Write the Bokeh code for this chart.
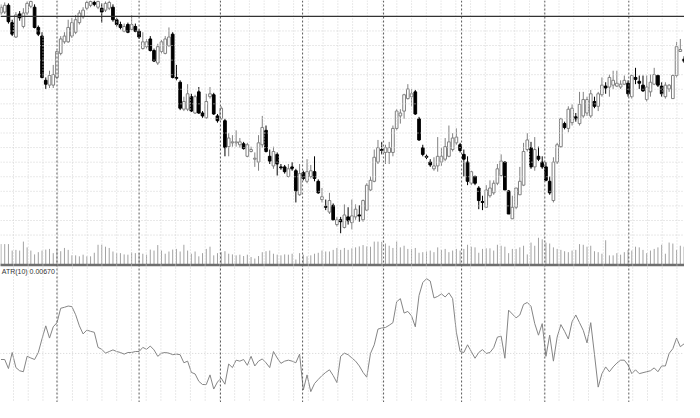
from bokeh.plotting import figure
from bokeh.models import Range1d, Span, Label, ColumnDataSource
from bokeh.embed import file_html
from bokeh.resources import INLINE

# ---------------- data ----------------
opens = [1.3935, 1.3940, 1.3975, 1.3885, 1.3810, 1.3930, 1.3865, 1.3935, 1.3970, 1.3965,
         1.3860, 1.3815, 1.3585, 1.3560, 1.3560, 1.3600, 1.3725, 1.3785, 1.3785, 1.3815,
         1.3835, 1.3885, 1.3915, 1.3960, 1.3975, 1.3990, 1.3965, 1.3960, 1.3950, 1.3960,
         1.3965, 1.3900, 1.3875, 1.3840, 1.3875, 1.3850, 1.3865, 1.3840, 1.3750, 1.3760,
         1.3800, 1.3740, 1.3675, 1.3735, 1.3725, 1.3765, 1.3825, 1.3600, 1.3575, 1.3435,
         1.3435, 1.3500, 1.3415, 1.3525, 1.3415, 1.3390, 1.3500, 1.3510, 1.3400, 1.3385,
         1.3375, 1.3240, 1.3260, 1.3260, 1.3250, 1.3255, 1.3190, 1.3215, 1.3175, 1.3160,
         1.3250, 1.3325, 1.3190, 1.3140, 1.3200, 1.3135, 1.3135, 1.3085, 1.3135, 1.3115,
         1.2990, 1.3105, 1.3060, 1.3085, 1.3110, 1.3060, 1.2965, 1.2930, 1.2900, 1.2935,
         1.2835, 1.2860, 1.2820, 1.2875, 1.2845, 1.2875, 1.2885, 1.2860, 1.2910, 1.3015,
         1.3060, 1.3160, 1.3225, 1.3210, 1.3210, 1.3210, 1.3335, 1.3400, 1.3425, 1.3490,
         1.3500, 1.3525, 1.3385, 1.3235, 1.3190, 1.3160, 1.3125, 1.3140, 1.3160, 1.3175,
         1.3190, 1.3225, 1.3260, 1.3250, 1.3200, 1.3160, 1.3050, 1.3085, 1.3025, 1.2955,
         1.2925, 1.2985, 1.3000, 1.3050, 1.3090, 1.3160, 1.3010, 1.2865, 1.2925, 1.2990,
         1.3040, 1.3225, 1.3235, 1.3135, 1.3190, 1.3160, 1.3135, 1.3060, 1.2960, 1.3160,
         1.3240, 1.3360, 1.3335, 1.3365, 1.3395, 1.3360, 1.3400, 1.3415, 1.3400, 1.3475,
         1.3450, 1.3510, 1.3555, 1.3550, 1.3560, 1.3555, 1.3550, 1.3565, 1.3570, 1.3500,
         1.3600, 1.3580, 1.3560, 1.3485, 1.3525, 1.3565, 1.3610, 1.3555, 1.3500, 1.3540,
         1.3490, 1.3610, 1.3735, 1.3695]

highs = [1.3980, 1.3990, 1.3985, 1.3900, 1.3940, 1.3945, 1.3960, 1.3995, 1.4000, 1.3980,
         1.3870, 1.3835, 1.3600, 1.3635, 1.3665, 1.3740, 1.3815, 1.3835, 1.3900, 1.3910,
         1.3925, 1.3950, 1.3965, 1.4000, 1.4000, 1.4000, 1.4000, 1.3985, 1.3995, 1.4000,
         1.3980, 1.3910, 1.3890, 1.3880, 1.3885, 1.3925, 1.3880, 1.3850, 1.3835, 1.3800,
         1.3815, 1.3750, 1.3775, 1.3795, 1.3815, 1.3860, 1.3835, 1.3665, 1.3585, 1.3500,
         1.3565, 1.3515, 1.3510, 1.3550, 1.3425, 1.3515, 1.3550, 1.3520, 1.3410, 1.3450,
         1.3385, 1.3310, 1.3300, 1.3325, 1.3285, 1.3265, 1.3260, 1.3240, 1.3210, 1.3300,
         1.3400, 1.3350, 1.3225, 1.3240, 1.3210, 1.3150, 1.3145, 1.3150, 1.3160, 1.3125,
         1.3150, 1.3115, 1.3175, 1.3145, 1.3190, 1.3070, 1.3025, 1.2965, 1.3000, 1.2945,
         1.2875, 1.2875, 1.2940, 1.2925, 1.2965, 1.2940, 1.2935, 1.2965, 1.3050, 1.3085,
         1.3225, 1.3275, 1.3265, 1.3250, 1.3265, 1.3350, 1.3435, 1.3435, 1.3515, 1.3565,
         1.3540, 1.3535, 1.3395, 1.3250, 1.3200, 1.3175, 1.3185, 1.3290, 1.3235, 1.3285,
         1.3350, 1.3310, 1.3335, 1.3260, 1.3225, 1.3190, 1.3115, 1.3090, 1.3035, 1.2985,
         1.3040, 1.3065, 1.3065, 1.3150, 1.3200, 1.3165, 1.3015, 1.2985, 1.3025, 1.3135,
         1.3260, 1.3310, 1.3265, 1.3290, 1.3240, 1.3190, 1.3160, 1.3085, 1.3185, 1.3260,
         1.3390, 1.3370, 1.3450, 1.3460, 1.3415, 1.3525, 1.3525, 1.3500, 1.3535, 1.3500,
         1.3525, 1.3600, 1.3575, 1.3615, 1.3635, 1.3635, 1.3585, 1.3610, 1.3585, 1.3615,
         1.3650, 1.3610, 1.3610, 1.3610, 1.3615, 1.3650, 1.3615, 1.3575, 1.3575, 1.3565,
         1.3615, 1.3785, 1.3800, 1.3710]

lows = [1.3925, 1.3930, 1.3880, 1.3815, 1.3805, 1.3895, 1.3855, 1.3925, 1.3960, 1.3855,
        1.3815, 1.3595, 1.3540, 1.3545, 1.3545, 1.3590, 1.3715, 1.3775, 1.3780, 1.3805,
        1.3825, 1.3875, 1.3905, 1.3950, 1.3965, 1.3970, 1.3955, 1.3885, 1.3940, 1.3950,
        1.3890, 1.3865, 1.3850, 1.3835, 1.3830, 1.3845, 1.3835, 1.3800, 1.3745, 1.3750,
        1.3735, 1.3680, 1.3665, 1.3725, 1.3720, 1.3760, 1.3595, 1.3585, 1.3430, 1.3425,
        1.3425, 1.3420, 1.3410, 1.3410, 1.3390, 1.3385, 1.3490, 1.3405, 1.3365, 1.3380,
        1.3190, 1.3190, 1.3240, 1.3240, 1.3235, 1.3225, 1.3185, 1.3210, 1.3135, 1.3115,
        1.3235, 1.3210, 1.3150, 1.3125, 1.3090, 1.3120, 1.3100, 1.3080, 1.3115, 1.2950,
        1.2985, 1.3065, 1.3050, 1.3075, 1.3060, 1.2995, 1.2950, 1.2910, 1.2890, 1.2855,
        1.2825, 1.2790, 1.2815, 1.2835, 1.2810, 1.2860, 1.2850, 1.2850, 1.2905, 1.3010,
        1.3055, 1.3150, 1.3200, 1.3150, 1.3150, 1.3190, 1.3325, 1.3360, 1.3385, 1.3485,
        1.3450, 1.3405, 1.3270, 1.3190, 1.3175, 1.3135, 1.3115, 1.3110, 1.3140, 1.3165,
        1.3185, 1.3215, 1.3250, 1.3210, 1.3085, 1.3040, 1.3040, 1.3040, 1.2915, 1.2910,
        1.2925, 1.2975, 1.2990, 1.3040, 1.3085, 1.3015, 1.2890, 1.2865, 1.2915, 1.2990,
        1.3035, 1.3215, 1.3125, 1.3115, 1.3165, 1.3125, 1.3060, 1.2990, 1.2950, 1.3150,
        1.3235, 1.3330, 1.3315, 1.3350, 1.3370, 1.3350, 1.3390, 1.3400, 1.3390, 1.3440,
        1.3425, 1.3500, 1.3515, 1.3500, 1.3540, 1.3550, 1.3540, 1.3560, 1.3500, 1.3490,
        1.3565, 1.3540, 1.3525, 1.3475, 1.3500, 1.3560, 1.3550, 1.3500, 1.3490, 1.3525,
        1.3490, 1.3600, 1.3735, 1.3675]

closes = [1.3965, 1.3975, 1.3890, 1.3825, 1.3925, 1.3910, 1.3935, 1.3985, 1.3995, 1.3860,
          1.3825, 1.3600, 1.3565, 1.3610, 1.3615, 1.3735, 1.3800, 1.3815, 1.3860, 1.3885,
          1.3900, 1.3935, 1.3950, 1.3990, 1.3995, 1.3980, 1.3995, 1.3940, 1.3985, 1.3990,
          1.3900, 1.3875, 1.3860, 1.3865, 1.3835, 1.3875, 1.3840, 1.3810, 1.3785, 1.3785,
          1.3740, 1.3685, 1.3760, 1.3785, 1.3800, 1.3810, 1.3600, 1.3595, 1.3440, 1.3475,
          1.3515, 1.3425, 1.3500, 1.3415, 1.3400, 1.3475, 1.3515, 1.3410, 1.3375, 1.3440,
          1.3235, 1.3285, 1.3265, 1.3265, 1.3265, 1.3230, 1.3250, 1.3225, 1.3180, 1.3260,
          1.3340, 1.3215, 1.3165, 1.3215, 1.3150, 1.3130, 1.3110, 1.3125, 1.3125, 1.3010,
          1.3100, 1.3075, 1.3110, 1.3115, 1.3075, 1.3000, 1.2980, 1.2925, 1.2960, 1.2860,
          1.2860, 1.2850, 1.2885, 1.2855, 1.2880, 1.2915, 1.2880, 1.2960, 1.3040, 1.3065,
          1.3185, 1.3235, 1.3220, 1.3235, 1.3235, 1.3335, 1.3425, 1.3415, 1.3510, 1.3540,
          1.3515, 1.3410, 1.3275, 1.3200, 1.3185, 1.3145, 1.3140, 1.3190, 1.3190, 1.3240,
          1.3265, 1.3285, 1.3290, 1.3220, 1.3175, 1.3060, 1.3110, 1.3050, 1.2960, 1.2950,
          1.3015, 1.3025, 1.3050, 1.3125, 1.3165, 1.3015, 1.2890, 1.2925, 1.3025, 1.3060,
          1.3215, 1.3275, 1.3135, 1.3225, 1.3175, 1.3135, 1.3065, 1.3000, 1.3160, 1.3250,
          1.3385, 1.3340, 1.3435, 1.3440, 1.3385, 1.3460, 1.3485, 1.3485, 1.3515, 1.3450,
          1.3515, 1.3560, 1.3545, 1.3600, 1.3585, 1.3570, 1.3565, 1.3585, 1.3515, 1.3610,
          1.3590, 1.3570, 1.3530, 1.3550, 1.3575, 1.3615, 1.3560, 1.3515, 1.3560, 1.3560,
          1.3610, 1.3760, 1.3745, 1.3685]

volumes = [20700, 20700, 20700, 14000, 14700, 14000, 23300, 17300, 14000, 10000,
           12300, 14000, 15000, 15700, 11300, 15700, 13300, 16700, 14700, 9000,
           9000, 8000, 9700, 8000, 8000, 11700, 20000, 20000, 18000, 16700,
           13000, 11300, 11300, 10000, 9700, 12000, 11300, 11300, 10700, 9700,
           15000, 14000, 19700, 14000, 10700, 13000, 15000, 15700, 13000, 20000,
           14000, 10700, 13000, 8000, 11300, 15700, 18000, 9000, 11300, 12300,
           13300,
           10700, 10000, 9000, 9700, 8300, 9700, 7300, 5700, 8300, 12300,
           13300, 14000, 10700, 9700, 9000, 10000, 9700, 10700, 4700, 11300,
           9700, 8000, 9000, 10700, 11700, 14000, 13000, 13000, 14700, 16700,
           14700, 16700, 14700, 16300, 17300, 18300, 19700, 18300, 18000, 23300,
           23300, 23000, 21300, 19000, 16700, 23300, 17300, 19000, 15700, 15700,
           16700, 11700, 12300, 13000, 14000, 12300, 17300, 14700, 15700, 12300,
           14000,
           15700, 14000, 15700, 20000, 18000, 17300, 11700, 15700, 16300, 16300,
           14000, 20000, 19000, 18000, 11300, 15700, 15700, 17300, 19000, 10000,
           22300, 19000, 27300, 25700, 22300, 21300, 17300, 15700, 14700, 13300,
           12300, 14000, 14700, 20700, 20000, 18000, 19000, 13300, 12300, 10700,
           24700, 9000, 9000, 11300, 9700, 12300, 14700, 14000, 18000, 17300,
           14700, 11300, 14000, 15700, 17300, 20000, 10700, 22300, 21300, 14700,
           19000, 18000]

atr10 = [0.00507, 0.00507, 0.00413, 0.00580, 0.00423, 0.00390, 0.00380, 0.00540, 0.00523, 0.00507,
         0.00580, 0.00723, 0.00857, 0.00730, 0.00847, 0.00890, 0.01040, 0.01050, 0.01063, 0.01057,
         0.00973, 0.00857, 0.00773, 0.00813, 0.00800, 0.00790, 0.00633, 0.00613, 0.00573, 0.00590,
         0.00607, 0.00590, 0.00580, 0.00563, 0.00580, 0.00580, 0.00590, 0.00590, 0.00633, 0.00613,
         0.00647, 0.00607, 0.00540, 0.00573, 0.00580, 0.00573, 0.00557, 0.00563, 0.00557, 0.00473,
         0.00490, 0.00373, 0.00357, 0.00280, 0.00247, 0.00247, 0.00347, 0.00200, 0.00273, 0.00313,
         0.00250, 0.00460, 0.00423, 0.00500, 0.00490, 0.00507, 0.00447, 0.00540, 0.00440, 0.00490,
         0.00513, 0.00473, 0.00423, 0.00590, 0.00523, 0.00467, 0.00490, 0.00500, 0.00490, 0.00473,
         0.00563, 0.00190, 0.00347, 0.00173, 0.00257, 0.00300, 0.00340, 0.00373, 0.00400, 0.00340,
         0.00267, 0.00540, 0.00573, 0.00557, 0.00523, 0.00490, 0.00440, 0.00373, 0.00323, 0.00570,
         0.00660, 0.00823, 0.00835, 0.00840, 0.00863, 0.00890, 0.01107, 0.01140, 0.00990, 0.01007,
         0.00960, 0.00847, 0.01173, 0.01307, 0.01347, 0.01323, 0.01147, 0.01163, 0.01190, 0.01157,
         0.01200, 0.01140, 0.00790, 0.00590, 0.00580, 0.00660, 0.00590, 0.00520, 0.00580, 0.00610,
         0.00570, 0.00580, 0.00630, 0.00740, 0.00750, 0.00520, 0.01020, 0.00980, 0.00940, 0.00970,
         0.01080, 0.01100, 0.01060, 0.00880, 0.00760, 0.00880, 0.00540, 0.00760, 0.00490, 0.00740,
         0.00870, 0.00800, 0.00720, 0.00900, 0.00970, 0.00890, 0.00810, 0.00680, 0.00890, 0.00560,
         0.00220, 0.00360, 0.00430, 0.00380, 0.00430, 0.00470, 0.00500, 0.00500, 0.00450, 0.00360,
         0.00400, 0.00360, 0.00370, 0.00380, 0.00390, 0.00420, 0.00380, 0.00440, 0.00440, 0.00570,
         0.00620, 0.00730, 0.00640, 0.00670]

# month separators (bar positions) and the horizontal line object
month_separators = [15.0, 37.0, 58.8, 80.8, 102.5, 123.4, 145.7, 168.2]
hline_price = 1.39175
atr_label = "ATR(10) 0.00670"

# ---------------- figure ----------------
n = min(len(opens), len(highs), len(lows), len(closes), len(volumes), len(atr10))
xs = list(range(n))

p = figure(width=684, height=402, output_backend="svg", toolbar_location=None,
           x_range=Range1d(-0.13, 183.12), y_range=Range1d(1.191, 1.400),
           x_axis_type=None, y_axis_type=None)
p.min_border = 0
p.min_border_left = 0
p.min_border_right = 0
p.min_border_top = 0
p.min_border_bottom = 0
p.outline_line_color = None
p.background_fill_color = "white"
p.border_fill_color = "white"
p.extra_y_ranges = {"vol": Range1d(-144000, 274000),
                    "ind": Range1d(0.0006, 0.0424)}

# light dotted grid
grid_col = "#d2d2d2"
for k in range(47):
    p.add_layout(Span(location=3.35 + 3.95 * k, dimension="height",
                      line_color=grid_col, line_width=1, line_dash="1 2"))
for k in range(1, 16):
    p.add_layout(Span(location=1.39175 - 0.00758 * k, dimension="width",
                      line_color=grid_col, line_width=1, line_dash="1 2"))
p.segment(x0=[-1], x1=[190], y0=[0.0057], y1=[0.0057], y_range_name="ind",
          line_color=grid_col, line_width=1, line_dash="1 2")

# period separators
for s in month_separators:
    p.add_layout(Span(location=s, dimension="height", line_color="#5a5a5a",
                      line_width=1, line_dash="2 2"))

# horizontal line object
p.add_layout(Span(location=hline_price, dimension="width",
                  line_color="#333333", line_width=1.3))

# volume
p.segment(x0=xs, x1=xs, y0=[0] * n, y1=volumes[:n], y_range_name="vol",
          line_color="#a2a2a2", line_width=1)

# window separator
p.quad(left=[-1], right=[190], bottom=[-2200], top=[400], y_range_name="vol",
       fill_color="#6e6e6e", line_color=None)

# indicator
p.line(xs, atr10[:n], y_range_name="ind", line_color="#858585", line_width=1)

# candles
up_col = "#808080"
wick_cols, fill_cols, line_cols, tops, bots = [], [], [], [], []
for i in range(n):
    o, c = opens[i], closes[i]
    up = c >= o
    wick_cols.append(up_col if up else "black")
    fill_cols.append("white" if up else "black")
    line_cols.append(up_col if up else "black")
    tops.append(max(o, c))
    bots.append(min(o, c))

src = ColumnDataSource(dict(x=xs, h=highs[:n], l=lows[:n], top=tops, bottom=bots,
                            wc=wick_cols, fc=fill_cols, lc=line_cols))
p.segment(x0="x", x1="x", y0="l", y1="h", line_color="wc", line_width=1, source=src)
p.vbar(x="x", width=0.72, top="top", bottom="bottom", fill_color="fc",
       line_color="lc", line_width=1, source=src)

# indicator caption
p.add_layout(Label(x=0.2, y=0.01425, y_range_name="ind", text=atr_label,
                   text_font="Liberation Sans", text_font_size="7px",
                   text_color="#333333", text_baseline="middle", text_align="left"))

open("out.html", "w").write(file_html(p, INLINE, "chart"))
